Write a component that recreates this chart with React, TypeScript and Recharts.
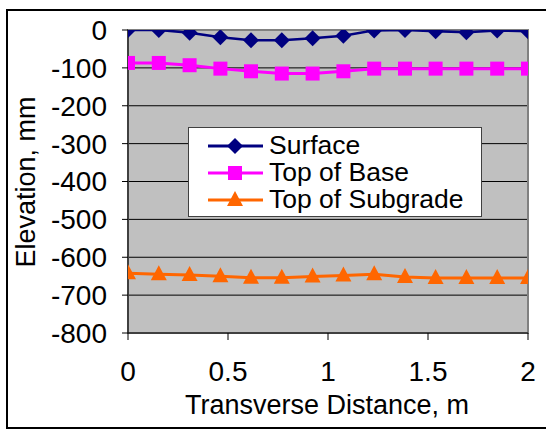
import React from 'react';
import { LineChart, Line, XAxis, YAxis, CartesianGrid, Legend, ReferenceArea } from 'recharts';

const distances = [0, 0.154, 0.308, 0.462, 0.615, 0.769, 0.923, 1.077, 1.231, 1.385, 1.538, 1.692, 1.846, 2];
const surface = [0, 0, -7, -19, -27, -27, -22, -15, -1, 0, -3, -6, -1, -3];
const topOfBase = [-87, -87, -93, -102, -109, -115, -115, -109, -102, -102, -102, -102, -102, -102];
const topOfSubgrade = [-642, -645, -647, -650, -654, -654, -651, -648, -645, -652, -655, -655, -655, -655];
const xTicks = [0, 0.5, 1, 1.5, 2];
const yTicks = [-800, -700, -600, -500, -400, -300, -200, -100, 0];
const seriesNames = ['Surface', 'Top of Base', 'Top of Subgrade'];

const data = distances.map((d, i) => ({
  x: d,
  surface: surface[i],
  base: topOfBase[i],
  subgrade: topOfSubgrade[i],
}));

const FONT = '"Liberation Sans", Arial, sans-serif';
const NAVY = '#000080';
const MAGENTA = '#FF00FF';
const ORANGE = '#FF6600';

const marker = (shape: string, color: string, cx: number, cy: number, key?: string) => {
  if (shape === 'diamond') {
    return <path key={key} d={`M${cx},${cy - 8}L${cx + 8},${cy}L${cx},${cy + 8}L${cx - 8},${cy}Z`} fill={color} />;
  }
  if (shape === 'square') {
    return <rect key={key} x={cx - 7} y={cy - 7} width={14} height={14} fill={color} />;
  }
  return <path key={key} d={`M${cx},${cy - 9}L${cx + 8},${cy + 6}L${cx - 8},${cy + 6}Z`} fill={color} />;
};

const makeDot = (shape: string, color: string) => (p: any) => {
  if (p.cx == null || p.cy == null) return <g key={`e-${shape}-${p.index}`} />;
  return marker(shape, color, p.cx, p.cy, `${shape}-${p.index}`);
};

const legendItems = [
  { name: seriesNames[0], color: NAVY, shape: 'diamond' },
  { name: seriesNames[1], color: MAGENTA, shape: 'square' },
  { name: seriesNames[2], color: ORANGE, shape: 'triangle' },
];

const LegendBox = () => (
  <div
    style={{
      width: 294,
      height: 90,
      boxSizing: 'border-box',
      border: '1px solid #404040',
      background: '#fff',
      paddingTop: 4,
    }}
  >
    {legendItems.map((it) => (
      <div key={it.name} style={{ display: 'flex', alignItems: 'center', height: 27, overflow: 'visible' }}>
        <svg width={80} height={27} style={{ flex: 'none' }}>
          <line x1={19} x2={74} y1={14} y2={14} stroke={it.color} strokeWidth={3} />
          {marker(it.shape, it.color, 46, 14)}
        </svg>
        <span style={{ fontFamily: FONT, fontSize: 26.5, color: '#000', lineHeight: '27px' }}>{it.name}</span>
      </div>
    ))}
  </div>
);

export default function App() {
  return (
    <div style={{ position: 'relative', width: 546, height: 429, overflow: 'hidden', background: '#fff' }}>
      <style>{`body{margin:0}`}</style>
      <div
        style={{
          position: 'absolute',
          left: 6,
          top: 9,
          width: 600,
          height: 420,
          boxSizing: 'border-box',
          border: '2px solid #000',
        }}
      />
      <div style={{ position: 'absolute', left: 0, top: 0 }}>
        <LineChart width={546} height={429} data={data} margin={{ top: 30, right: 18, bottom: 0, left: 0 }}>
          <CartesianGrid vertical={false} horizontal stroke="#000" fill="#C0C0C0" fillOpacity={1} horizontalValues={yTicks} />
          <ReferenceArea x1={0} x2={2} y1={-800} y2={0} fill="none" stroke="#808080" strokeWidth={2} ifOverflow="visible" />
          <XAxis
            dataKey="x"
            type="number"
            domain={[0, 2]}
            ticks={xTicks}
            height={96}
            tickSize={7}
            tickMargin={21}
            stroke="#000"
            tick={{ fill: '#000', fontSize: 28, fontFamily: FONT }}
            allowDataOverflow
          />
          <YAxis
            type="number"
            domain={[-800, 0]}
            ticks={yTicks}
            width={128}
            tickSize={6}
            tickMargin={15}
            stroke="#000"
            tick={{ fill: '#000', fontSize: 28, fontFamily: FONT }}
            interval={0}
            allowDataOverflow
          />
          <Line
            dataKey="subgrade"
            name={seriesNames[2]}
            stroke={ORANGE}
            strokeWidth={3}
            dot={makeDot('triangle', ORANGE)}
            activeDot={false}
            isAnimationActive={false}
          />
          <Line
            dataKey="base"
            name={seriesNames[1]}
            stroke={MAGENTA}
            strokeWidth={3}
            dot={makeDot('square', MAGENTA)}
            activeDot={false}
            isAnimationActive={false}
          />
          <Line
            dataKey="surface"
            name={seriesNames[0]}
            stroke={NAVY}
            strokeWidth={2.5}
            dot={makeDot('diamond', NAVY)}
            activeDot={false}
            isAnimationActive={false}
          />
          <Legend
            layout="vertical"
            align="center"
            verticalAlign="middle"
            content={() => <LegendBox />}
            wrapperStyle={{ position: 'absolute', left: 188, top: 127, width: 294, height: 90 }}
          />
        </LineChart>
      </div>
      <div
        style={{
          position: 'absolute',
          left: 127,
          width: 400,
          top: 390,
          height: 30,
          lineHeight: '30px',
          textAlign: 'center',
          fontFamily: FONT,
          fontSize: 27,
          color: '#000',
        }}
      >
        Transverse Distance, m
      </div>
      <div
        style={{
          position: 'absolute',
          left: 26 - 150,
          top: 182 - 15,
          width: 300,
          height: 30,
          lineHeight: '30px',
          textAlign: 'center',
          fontFamily: FONT,
          fontSize: 27,
          color: '#000',
          transform: 'rotate(-90deg)',
        }}
      >
        Elevation, mm
      </div>
    </div>
  );
}
